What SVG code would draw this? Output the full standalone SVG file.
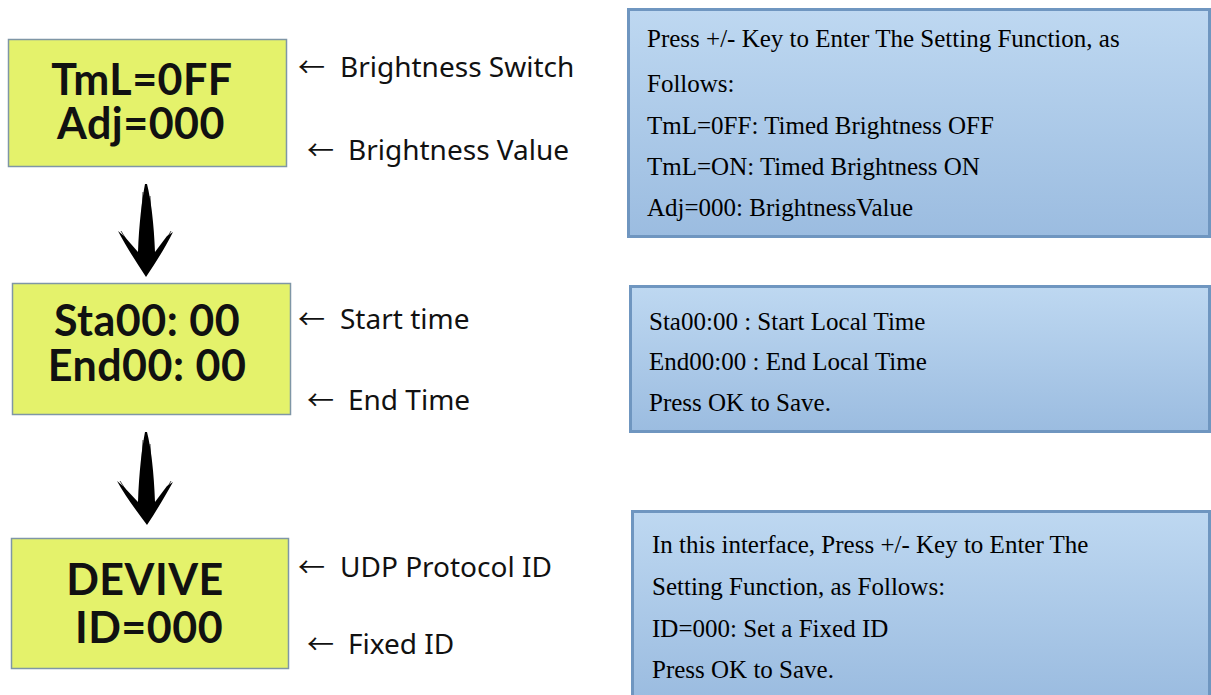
<svg xmlns="http://www.w3.org/2000/svg" width="1211" height="695" viewBox="0 0 1211 695">
<defs>
<linearGradient id="blueGrad" x1="0" y1="0" x2="0" y2="1">
<stop offset="0" stop-color="#bed8f1"/>
<stop offset="1" stop-color="#9bbce0"/>
</linearGradient>
<style>
.lcd{fill:#e4f26b;stroke:#7f96a6;stroke-width:1.5}
.lcdt{font-family:Lato,"Noto Sans",sans-serif;font-weight:bold;font-size:43px;fill:#111;text-anchor:middle;letter-spacing:0.5px}
.lbl{font-family:"Noto Sans","Open Sans",sans-serif;font-size:28px;fill:#111}
.arr{font-family:"Noto Sans CJK SC","Noto Sans",sans-serif;font-size:27px}
.note{fill:url(#blueGrad);stroke:#6f96c0;stroke-width:3}
.nt{font-family:"Liberation Serif","Times New Roman",serif;font-size:25px;fill:#000}
.brush{fill:#000}
.hair{fill:none;stroke:#000;stroke-width:1;opacity:0.7}
</style>
</defs>
<rect width="1211" height="695" fill="#ffffff"/>

<g id="lcd1">
<rect class="lcd" x="8.5" y="39.5" width="278" height="127"/>
<text class="lcdt" x="142" y="95">TmL=0FF</text>
<text class="lcdt" x="141" y="139">Adj=000</text>
</g>
<g id="lcd2">
<rect class="lcd" x="12.5" y="283.5" width="278" height="131"/>
<text class="lcdt" x="147" y="336">Sta00: 00</text>
<text class="lcdt" x="147" y="381">End00: 00</text>
</g>
<g id="lcd3">
<rect class="lcd" x="11.5" y="538.5" width="277" height="130"/>
<text class="lcdt" x="145" y="595">DEVIVE</text>
<text class="lcdt" x="149" y="643">ID=000</text>
</g>

<g id="labels">
<text class="lbl" y="77"><tspan class="arr" x="298">←</tspan><tspan x="340">Brightness Switch</tspan></text>
<text class="lbl" y="160"><tspan class="arr" x="307">←</tspan><tspan x="348">Brightness Value</tspan></text>
<text class="lbl" y="329"><tspan class="arr" x="298">←</tspan><tspan x="340">Start time</tspan></text>
<text class="lbl" y="410"><tspan class="arr" x="307">←</tspan><tspan x="348">End Time</tspan></text>
<text class="lbl" y="577"><tspan class="arr" x="298">←</tspan><tspan x="340">UDP Protocol ID</tspan></text>
<text class="lbl" y="654"><tspan class="arr" x="307">←</tspan><tspan x="348">Fixed ID</tspan></text>
</g>

<g id="note1">
<rect class="note" x="628.5" y="9.5" width="581" height="227"/>
<text class="nt" x="647" y="47">Press +/- Key to Enter The Setting Function, as</text>
<text class="nt" x="647" y="92">Follows:</text>
<text class="nt" x="647" y="134">TmL=0FF: Timed Brightness OFF</text>
<text class="nt" x="647" y="175">TmL=ON: Timed Brightness ON</text>
<text class="nt" x="647" y="216">Adj=000: BrightnessValue</text>
</g>
<g id="note2">
<rect class="note" x="630.5" y="286.5" width="579" height="145"/>
<text class="nt" x="649" y="330">Sta00:00 : Start Local Time</text>
<text class="nt" x="649" y="370">End00:00 : End Local Time</text>
<text class="nt" x="649" y="411">Press OK to Save.</text>
</g>
<g id="note3">
<rect class="note" x="632.5" y="511.5" width="577" height="186"/>
<text class="nt" x="652" y="553">In this interface, Press +/- Key to Enter The</text>
<text class="nt" x="652" y="595">Setting Function, as Follows:</text>
<text class="nt" x="652" y="637">ID=000: Set a Fixed ID</text>
<text class="nt" x="652" y="678">Press OK to Save.</text>
</g>

<g id="connectors">
<path class="brush" d="M145,184 C142,200 139,224 138,252 L124,236 L118,231 C126,246 136,262 146,277 C156,262 165,248 173,232 L167,236 L155,252 C154,224 151,200 147,184 Z"/>
<path class="hair" d="M143,192 L141,230 M150,196 L152,236 M121,231 L140,262 M171,231 L154,262"/>
<path class="brush" d="M145,432 C142,448 139,472 138,502 L123,486 L117,481 C125,496 136,510 147,525 C157,510 165,496 173,482 L167,486 L155,502 C154,472 151,448 147,432 Z"/>
<path class="hair" d="M143,440 L141,478 M150,444 L152,484 M120,481 L140,512 M171,481 L154,512"/>
</g>
</svg>
